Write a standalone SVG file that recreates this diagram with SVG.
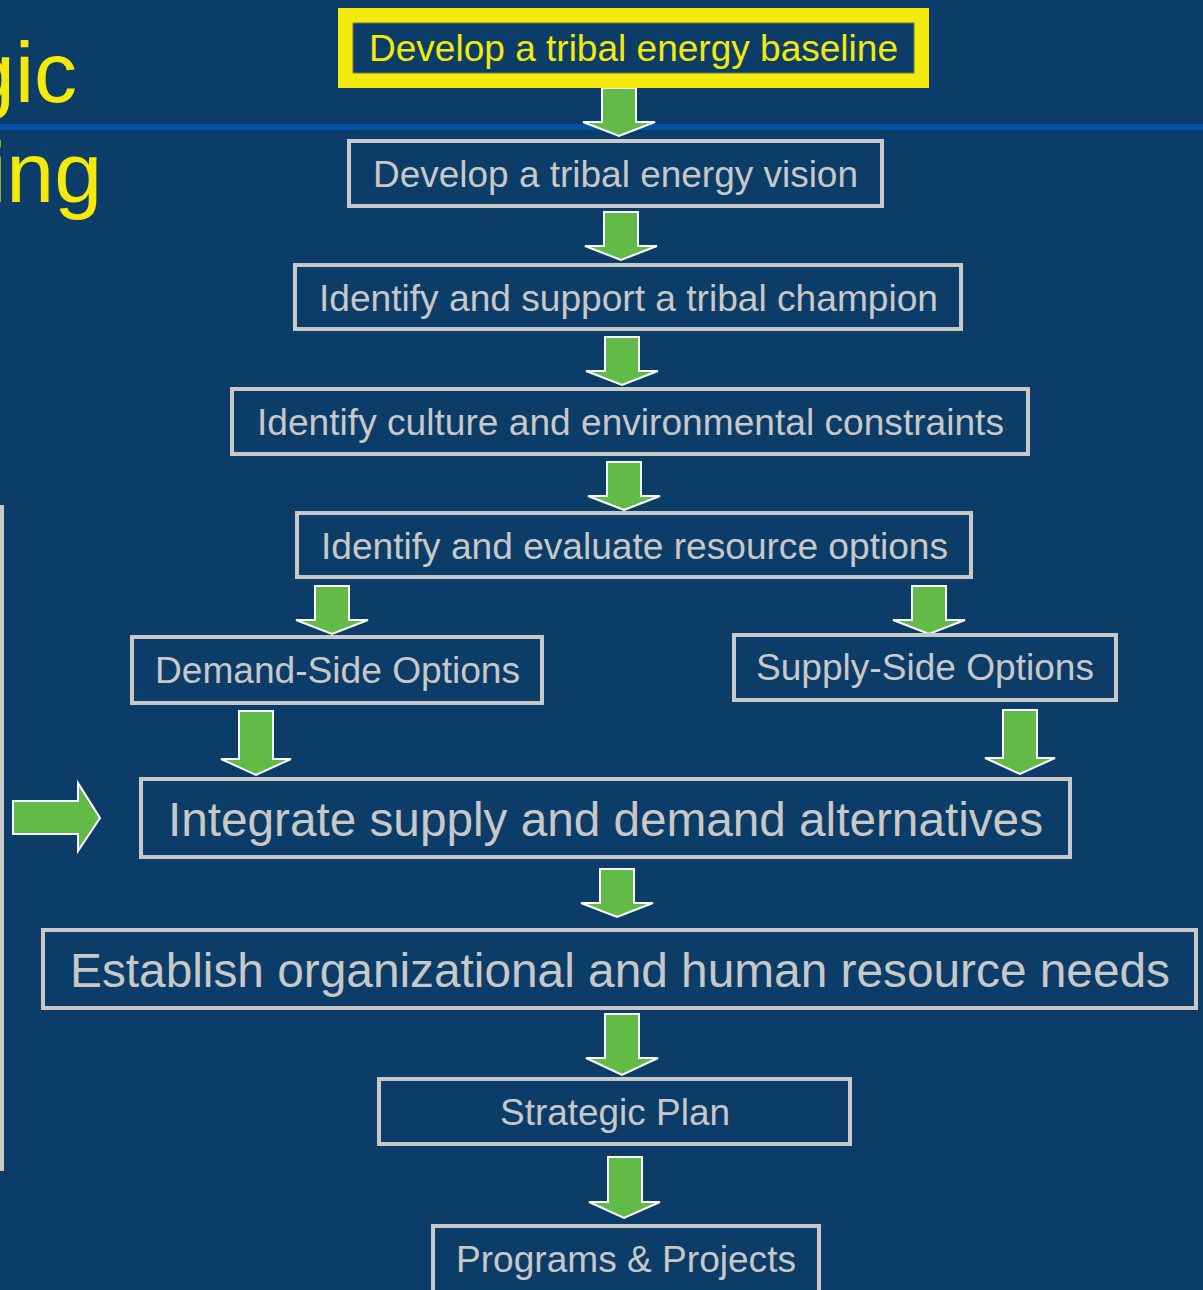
<svg xmlns="http://www.w3.org/2000/svg" width="1203" height="1290" viewBox="0 0 1203 1290">
<style>
.box{fill:#0c3c68;stroke:#c8c8c8;stroke-width:4}
.t{font-family:"Liberation Sans",Arial,sans-serif;fill:#c8c8c8;text-anchor:middle}
.m{font-size:37px}
.b{font-size:48px}
.arr{fill:#62bb46;stroke:#ffffff;stroke-width:2;stroke-linejoin:miter}
.title{font-family:"Liberation Sans",Arial,sans-serif;fill:#f3ea0b;font-size:86px;text-anchor:end}
</style>
<defs>
<path id="down" d="M-17,0 H17 V34 H36 L0,48 L-36,34 H-17 Z"/>
<path id="downL" d="M-17,0 H17 V48 H35 L0,64 L-35,48 H-17 Z"/>
</defs>
<rect x="0" y="0" width="1203" height="1290" fill="#0c3c68"/>
<rect x="0" y="124" width="1203" height="6" fill="#0052a3"/>
<rect x="0" y="505" width="4" height="666" fill="#c8c8c8"/>
<text class="title" x="77" y="102">gic</text>
<text class="title" x="102" y="202">ing</text>

<g id="connectors">
<use href="#down" class="arr" transform="translate(619,88)"/>
<use href="#down" class="arr" transform="translate(621,212)"/>
<use href="#down" class="arr" transform="translate(622,337)"/>
<use href="#down" class="arr" transform="translate(624,462)"/>
<use href="#down" class="arr" transform="translate(332,586)"/>
<use href="#down" class="arr" transform="translate(929,586)"/>
<use href="#downL" class="arr" transform="translate(256,711)"/>
<use href="#downL" class="arr" transform="translate(1020,710)"/>
<use href="#down" class="arr" transform="translate(617,869)"/>
<path class="arr" d="M605,1014 H639 V1058 H658 L622,1075 L586,1058 H605 Z"/>
<path class="arr" d="M608,1157 H642 V1202 H660 L624,1218 L589,1202 H608 Z"/>
<path class="arr" d="M13,801 H78 V783 L100,818 L78,851 V834 H13 Z"/>
</g>

<g id="n1">
<rect x="338" y="8" width="591" height="80" fill="#f3ea0b"/>
<rect x="353" y="23" width="561" height="50" fill="#0c3c68" stroke="#6b7a5a" stroke-width="1"/>
<text class="t m" x="633.5" y="61" style="fill:#f3ea0b" textLength="529" lengthAdjust="spacingAndGlyphs">Develop a tribal energy baseline</text>
</g>
<g id="n2">
<rect class="box" x="349" y="141" width="533" height="65"/>
<text class="t m" x="615.5" y="187" textLength="485" lengthAdjust="spacingAndGlyphs">Develop a tribal energy vision</text>
</g>
<g id="n3">
<rect class="box" x="295" y="265" width="666" height="64"/>
<text class="t m" x="628.5" y="311" textLength="619" lengthAdjust="spacingAndGlyphs">Identify and support a tribal champion</text>
</g>
<g id="n4">
<rect class="box" x="232" y="389" width="796" height="65"/>
<text class="t m" x="630.5" y="435" textLength="747" lengthAdjust="spacingAndGlyphs">Identify culture and environmental constraints</text>
</g>
<g id="n5">
<rect class="box" x="297" y="513" width="674" height="64"/>
<text class="t m" x="634.5" y="559" textLength="627" lengthAdjust="spacingAndGlyphs">Identify and evaluate resource options</text>
</g>
<g id="n6">
<rect class="box" x="132" y="637" width="410" height="66"/>
<text class="t m" x="337.5" y="683" textLength="365" lengthAdjust="spacingAndGlyphs">Demand-Side Options</text>
</g>
<g id="n7">
<rect class="box" x="734" y="635" width="382" height="65"/>
<text class="t m" x="925" y="680" textLength="338" lengthAdjust="spacingAndGlyphs">Supply-Side Options</text>
</g>
<g id="n8">
<rect class="box" x="141" y="779" width="929" height="78"/>
<text class="t b" x="605.5" y="836" textLength="875" lengthAdjust="spacingAndGlyphs">Integrate supply and demand alternatives</text>
</g>
<g id="n9">
<rect class="box" x="43" y="930" width="1153" height="78"/>
<text class="t b" x="620" y="987" textLength="1100" lengthAdjust="spacingAndGlyphs">Establish organizational and human resource needs</text>
</g>
<g id="n10">
<rect class="box" x="379" y="1079" width="471" height="65"/>
<text class="t m" x="615" y="1125" textLength="230" lengthAdjust="spacingAndGlyphs">Strategic Plan</text>
</g>
<g id="n11">
<rect class="box" x="433" y="1226" width="386" height="80"/>
<text class="t m" x="626" y="1272" textLength="340" lengthAdjust="spacingAndGlyphs">Programs &amp; Projects</text>
</g>
</svg>
